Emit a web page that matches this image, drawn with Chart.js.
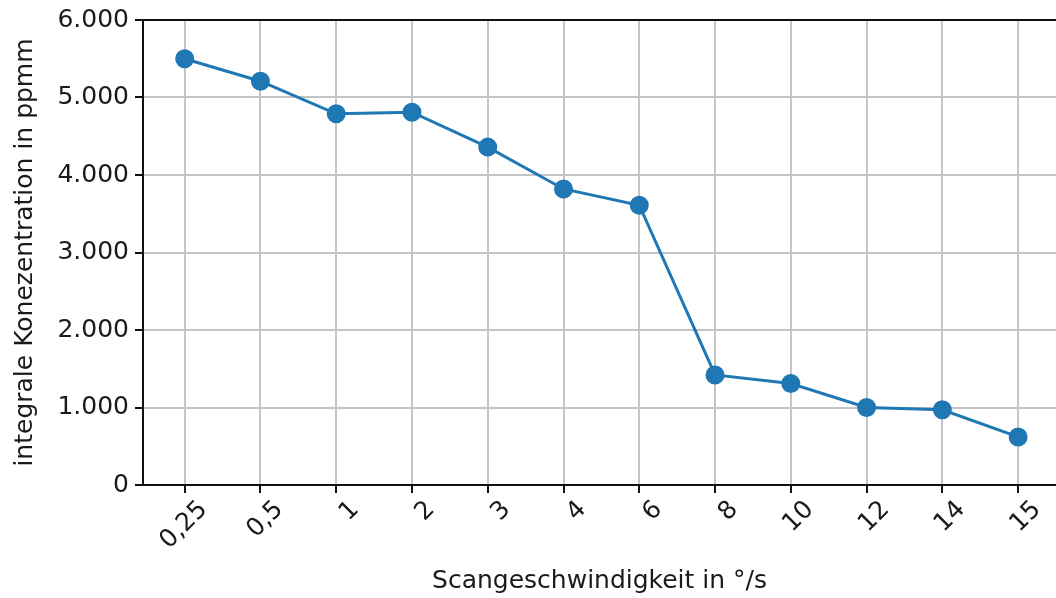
<!DOCTYPE html>
<html>
<head>
<meta charset="utf-8">
<script src="https://cdn.jsdelivr.net/npm/chart.js@4.4.1/dist/chart.umd.min.js"></script>
<style>
  html, body { margin: 0; padding: 0; background: #fff; overflow: hidden; }
  #wrap { width: 1056px; height: 598px; }
</style>
</head>
<body>
<div id="wrap"><canvas id="line-chart"></canvas></div>
<script>
var speeds = ['0,25', '0,5', '1', '2', '3', '4', '6', '8', '10', '12', '14', '15'];
var concentration = [5500, 5210, 4790, 4810, 4360, 3820, 3610, 1420, 1310, 1000, 970, 620];
var yTicks = [0, 1000, 2000, 3000, 4000, 5000, 6000];

var points = speeds.map(function (s, i) { return { x: i, y: concentration[i] }; });

function fmt(v) {
    var s = String(Math.round(v));
    return s.length > 3 ? s.slice(0, -3) + '.' + s.slice(-3) : s;
}

Chart.defaults.font.family = 'DejaVu Sans';
Chart.defaults.font.size = 25;
Chart.defaults.color = '#1a1a1a';

// matplotlib-like top spine
var topSpine = {
    id: 'topSpine',
    afterDraw: function (c) {
        var a = c.chartArea, ctx = c.ctx;
        ctx.save();
        ctx.strokeStyle = '#111';
        ctx.lineWidth = 2;
        ctx.beginPath();
        ctx.moveTo(a.left, a.top);
        ctx.lineTo(a.right, a.top);
        ctx.stroke();
        ctx.restore();
    }
};

var chart = document.getElementById('line-chart');

let lineChart = new Chart(chart, {
    type: 'line',
    data: {
        datasets: [{
            data: points,
            borderColor: '#1f77b4',
            backgroundColor: '#1f77b4',
            pointBackgroundColor: '#1f77b4',
            pointBorderColor: '#1f77b4',
            pointRadius: 8,
            borderWidth: 3,
            lineTension: 0,
            fill: false,
            clip: false
        }]
    },
    options: {
        responsive: true,
        maintainAspectRatio: false,
        animation: false,
        layout: { autoPadding: false, padding: { top: 20, right: 0, left: 0, bottom: 0 } },
        plugins: { legend: { display: false }, tooltip: { enabled: false } },
        scales: {
            x: {
                type: 'linear',
                min: -0.55,
                max: 11.5,
                grid: { color: '#c4c4c4', lineWidth: 2, tickColor: '#111', tickLength: 8 },
                border: { color: '#111', width: 2 },
                afterBuildTicks: function (axis) {
                    axis.ticks = speeds.map(function (s, i) { return { value: i }; });
                },
                ticks: {
                    minRotation: 45,
                    maxRotation: 45,
                    labelOffset: 19,
                    padding: 2,
                    color: '#1a1a1a',
                    callback: function (v) { return speeds[v]; }
                },
                title: {
                    display: true,
                    text: 'Scangeschwindigkeit in °/s',
                    color: '#1a1a1a',
                    padding: { top: 0, bottom: 2 }
                },
                afterFit: function (axis) {
                    axis.height = 113;
                    axis.paddingLeft = 0;
                    axis.paddingRight = 0;
                }
            },
            y: {
                min: 0,
                max: 6000,
                afterBuildTicks: function (axis) {
                    axis.ticks = yTicks.map(function (v) { return { value: v }; });
                },
                grid: { color: '#c4c4c4', lineWidth: 2, tickColor: '#111', tickLength: 8 },
                border: { color: '#111', width: 2 },
                ticks: {
                    padding: 6,
                    color: '#1a1a1a',
                    callback: function (v) { return fmt(v); }
                },
                title: {
                    display: true,
                    text: 'integrale Konezentration in ppmm',
                    color: '#1a1a1a',
                    padding: { top: 10, bottom: 0 }
                },
                afterFit: function (axis) {
                    axis.width = 143;
                    axis.paddingTop = 0;
                    axis.paddingBottom = 0;
                }
            }
        }
    },
    plugins: [topSpine]
});
</script>
</body>
</html>
